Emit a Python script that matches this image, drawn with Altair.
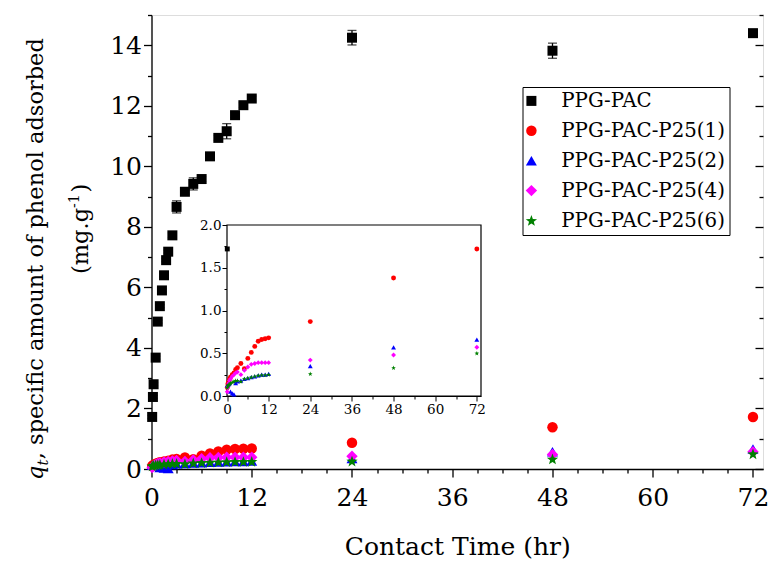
import math
import altair as alt
import pandas as pd

FONT = "DejaVu Serif"

SERIES = ["PPG-PAC", "PPG-PAC-P25(1)", "PPG-PAC-P25(2)", "PPG-PAC-P25(4)", "PPG-PAC-P25(6)"]
COLORS = ["#000000", "#FF0000", "#0000FF", "#FF00FF", "#008000"]

PAC_TIME = [0.08, 0.17, 0.25, 0.5, 0.75, 1.0, 1.25, 1.5, 1.75, 2.0, 2.5, 3, 4, 5, 6, 7, 8, 9, 10, 11, 12, 24, 48, 72]
PAC_Q = [1.72, 2.38, 2.80, 3.68, 4.87, 5.38, 5.90, 6.40, 6.90, 7.18, 7.72, 8.66, 9.16, 9.42, 9.58, 10.33,
         10.94, 11.16, 11.69, 12.02, 12.24, 14.25, 13.82, 14.40]
PAC_ERR = [0.05, 0.05, 0.05, 0.05, 0.05, 0.05, 0.05, 0.05, 0.05, 0.05, 0.08, 0.20, 0.08, 0.20, 0.08, 0.08,
           0.08, 0.25, 0.08, 0.08, 0.08, 0.24, 0.25, 0.08]

P25_TIME = [0.08, 0.25, 0.5, 0.75, 1, 1.5, 2, 2.5, 3, 4, 5, 6, 7, 8, 9, 10, 11, 12, 24, 48, 72]
P1_Q = [0.10, 0.14, 0.17, 0.20, 0.22, 0.25, 0.27, 0.31, 0.33, 0.38, 0.32, 0.44, 0.51, 0.58, 0.64, 0.66,
        0.67, 0.68, 0.87, 1.38, 1.72]
P2_Q = [0.12, 0.13, 0.14, 0.15, 0.05, 0.03, 0.02, 0.15, 0.17, 0.18, 0.20, 0.21, 0.22, 0.23, 0.24, 0.25,
        0.25, 0.26, 0.35, 0.57, 0.66]
P4_Q = [0.05, 0.10, 0.15, 0.18, 0.20, 0.23, 0.25, 0.27, 0.28, 0.25, 0.30, 0.34, 0.37, 0.38, 0.39, 0.39,
        0.39, 0.39, 0.42, 0.48, 0.57]
P6_Q = [0.10, 0.12, 0.13, 0.14, 0.15, 0.16, 0.17, 0.18, 0.18, 0.17, 0.20, 0.21, 0.22, 0.23, 0.24, 0.245,
        0.245, 0.25, 0.26, 0.33, 0.50]

# five-pointed star symbol in the unit square [-1, 1]
pts = []
for i in range(10):
    r = 1.0 if i % 2 == 0 else 0.42
    a = math.radians(-90 + 36 * i)
    pts.append(f"{r * math.cos(a):.3f},{r * math.sin(a) + 0.08:.3f}")
STAR = "M" + " L".join(pts) + " Z"
SHAPES = ["square", "circle", "triangle-up", "diamond", STAR]
SIZES = [100, 140, 150, 170, 190]

rows = []
for name, ts, qs in [(SERIES[0], PAC_TIME, PAC_Q), (SERIES[1], P25_TIME, P1_Q), (SERIES[2], P25_TIME, P2_Q),
                     (SERIES[3], P25_TIME, P4_Q), (SERIES[4], P25_TIME, P6_Q)]:
    for t, q in zip(ts, qs):
        rows.append({"series": name, "t": t, "q": q})
df = pd.DataFrame(rows)

err_df = pd.DataFrame({"t": PAC_TIME,
                       "lo": [q - e for q, e in zip(PAC_Q, PAC_ERR)],
                       "hi": [q + e for q, e in zip(PAC_Q, PAC_ERR)]})

W, H = 611.5, 454
XMAX = 73.2

def ax_common(**kw):
    base = dict(tickWidth=1.3, tickColor="black", domainColor="black", domainWidth=1.3,
                labelFont=FONT, labelColor="black", grid=False, labelOverlap=False, labelFlush=False)
    base.update(kw)
    return alt.Axis(**base)

def xs():
    return alt.Scale(domain=[0, XMAX], nice=False, zero=False)

def ys():
    return alt.Scale(domain=[0, 15], nice=False, zero=False)

x_axis = ax_common(orient="bottom", values=list(range(0, 73, 3)),
                   labelExpr="datum.value % 12 === 0 ? datum.label : ''",
                   tickSize={"condition": {"test": "datum.value % 12 === 0", "value": 8}, "value": 4},
                   labelFontSize=25, labelPadding=8,
                   title="Contact Time (hr)", titleFont=FONT, titleFontSize=25,
                   titleFontWeight="normal", titleColor="black", titlePadding=24)
y_axis = ax_common(orient="left", values=list(range(0, 16)),
                   labelExpr="datum.value % 2 === 0 ? datum.label : ''",
                   tickSize={"condition": {"test": "datum.value % 2 === 0", "value": 8}, "value": 4},
                   labelFontSize=25, labelPadding=2, title=None)

color_scale = alt.Scale(domain=SERIES, range=COLORS)
shape_scale = alt.Scale(domain=SERIES, range=SHAPES)

legend = alt.Legend(orient="none", legendX=371, legendY=72, title=None,
                    labelFont=FONT, labelFontSize=19.8, labelColor="black", labelLimit=400,
                    labelExpr="datum.label + '\u00a0\u00a0'",
                    symbolSize=120, symbolStrokeWidth=0, symbolOpacity=1, symbolOffset=-5,
                    strokeColor="black", fillColor="white", padding=4, rowPadding=8.9,
                    labelOffset=20)

points = alt.Chart(df).mark_point(filled=True, opacity=1, strokeWidth=0).encode(
    x=alt.X("t:Q", scale=xs(), axis=x_axis),
    y=alt.Y("q:Q", scale=ys(), axis=y_axis),
    color=alt.Color("series:N", scale=color_scale, legend=legend, sort=SERIES),
    shape=alt.Shape("series:N", scale=shape_scale, legend=legend, sort=SERIES),
    size=alt.Size("series:N", scale=alt.Scale(domain=SERIES, range=SIZES), legend=None),
)

err_rule = alt.Chart(err_df).mark_rule(color="black", strokeWidth=1.3).encode(
    x=alt.X("t:Q", scale=xs(), axis=None),
    y=alt.Y("lo:Q", scale=ys(), axis=None),
    y2="hi:Q",
)
cap_lo = alt.Chart(err_df).mark_tick(color="black", orient="horizontal", size=9, thickness=1.3).encode(
    x=alt.X("t:Q", scale=xs(), axis=None),
    y=alt.Y("lo:Q", scale=ys(), axis=None),
)
cap_hi = alt.Chart(err_df).mark_tick(color="black", orient="horizontal", size=9, thickness=1.3).encode(
    x=alt.X("t:Q", scale=xs(), axis=None),
    y=alt.Y("hi:Q", scale=ys(), axis=None),
)

# inward ticks on the right edge of the main frame
mirror = alt.Chart(pd.DataFrame({"v": [0]})).mark_point(opacity=0).encode(
    x=alt.X("v:Q", scale=xs(), axis=None),
    y=alt.Y("v:Q", scale=ys(),
            axis=ax_common(orient="left", offset=-W, values=list(range(0, 16)), labels=False, domain=False,
                           tickSize={"condition": {"test": "datum.value % 2 === 0", "value": 8}, "value": 4},
                           title=None)),
)

# inset
IX0, IX1 = 75.5, 329.5
IY0, IY1 = 381, 210
def ixs():
    return alt.Scale(domain=[0, XMAX], range=[IX0, IX1], nice=False, zero=False)
def iys():
    return alt.Scale(domain=[0, 2], range=[IY0, IY1], nice=False, zero=False)
ix_axis = ax_common(orient="bottom", offset=-(H - IY0), values=list(range(0, 73, 6)),
                    labelExpr="datum.value % 12 === 0 ? datum.label : ''",
                    tickSize={"condition": {"test": "datum.value % 12 === 0", "value": 5}, "value": 3},
                    labelFontSize=13.5, labelPadding=1, title=None, tickWidth=1, domainWidth=1)
iy_axis = ax_common(orient="left", offset=-IX0, values=[i * 0.25 for i in range(9)],
                    labelExpr="datum.value % 0.5 === 0 ? format(datum.value, '.1f') : ''",
                    tickSize={"condition": {"test": "datum.value % 0.5 === 0", "value": 5}, "value": 3},
                    labelFontSize=13.5, labelPadding=1, title=None, tickWidth=1, domainWidth=1)

frame = alt.Chart(pd.DataFrame({"v": [0]})).mark_rect(fill="white", stroke="black", strokeWidth=1.2).encode(
    x=alt.XDatum(0, scale=ixs(), axis=None),
    x2=alt.X2Datum(XMAX),
    y=alt.YDatum(0, scale=iys(), axis=None),
    y2=alt.Y2Datum(2),
)
inset_pts = alt.Chart(df).transform_filter("datum.q <= 2").mark_point(
    filled=True, opacity=1, strokeWidth=0, size=24).encode(
    x=alt.X("t:Q", scale=ixs(), axis=ix_axis),
    y=alt.Y("q:Q", scale=iys(), axis=iy_axis),
    color=alt.Color("series:N", scale=color_scale, legend=None),
    shape=alt.Shape("series:N", scale=shape_scale, legend=None),
)

# y-axis title built from text pieces (italic q with subscript t, superscript -1)
one = pd.DataFrame({"v": [0]})
def txt(s, x, y, size=22.5, style="normal"):
    return alt.Chart(one).mark_text(text=s, font=FONT, fontSize=size, fontStyle=style, angle=270,
                                    align="left", baseline="alphabetic", color="black").encode(
        x=alt.value(x), y=alt.value(y))

L1X = -108.5
L2X = -63.5
chart = alt.layer(
    err_rule, cap_lo, cap_hi, points, mirror, frame, inset_pts,
    txt("q", L1X, 465, 22.5, "italic"),
    txt("t", L1X + 5, 450.6, 14.6, "italic"),
    txt(", specific amount of phenol adsorbed", L1X, 444.2),
    txt("(mg.g", L2X, 259),
    txt("-1", L2X - 9, 193, 14),
    txt(")", L2X, 177.4),
).resolve_scale(
    x="independent", y="independent"
).properties(
    width=W, height=H,
    padding={"left": 151.5, "top": 15, "right": 8, "bottom": 96},
    autosize=alt.AutoSizeParams(type="none"),
).configure_view(stroke="black", strokeWidth=1.3).configure(background="white", font=FONT)

chart.save("out.html", embed_options={"renderer": "svg", "actions": False})
